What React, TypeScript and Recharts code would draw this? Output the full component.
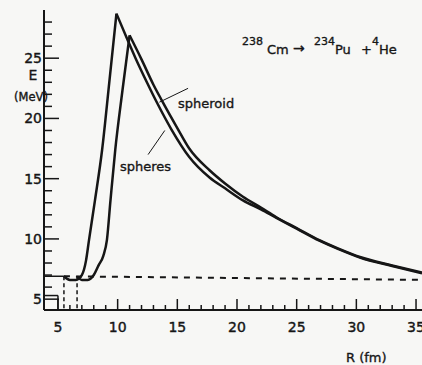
import { LineChart, Line, XAxis, YAxis, ReferenceLine, Customized } from 'recharts'

// R in fm, E in MeV
const spheresR = [5.5, 6.0, 6.5, 7.0, 7.35, 7.6, 8.1, 8.7, 9.3, 9.9, 10.8, 11.5, 12.5, 13.3, 14.5, 16.0, 17.7, 19.0, 20.5, 22.0, 23.3, 25.0, 26.9, 28.5, 30.3, 33.0, 35.5]
const spheresE = [6.9, 6.6, 6.6, 7.0, 8.2, 9.9, 13.2, 17.4, 23.0, 28.7, 26.6, 25.0, 22.9, 21.3, 19.1, 16.8, 15.1, 14.2, 13.2, 12.45, 11.75, 10.85, 9.85, 9.15, 8.45, 7.75, 7.15]

const spheroidR = [6.6, 7.0, 7.5, 8.0, 8.4, 8.8, 9.1, 9.4, 9.8, 10.4, 11.0, 12.0, 13.0, 13.7, 15.0, 16.0, 17.7, 19.0, 20.5, 22.0, 23.3, 25.0, 26.9, 28.5, 30.3, 33.0, 35.5]
const spheroidE = [6.9, 6.6, 6.6, 7.0, 7.8, 8.6, 9.9, 13.2, 17.4, 22.3, 26.9, 24.9, 22.8, 21.5, 19.2, 17.5, 15.7, 14.6, 13.5, 12.6, 11.8, 10.9, 9.9, 9.2, 8.5, 7.8, 7.2]

// Q-value level (dashed) and touching points
const qLevel = [6.9, 6.6]
const touchR = [5.5, 6.6]

const xTicks = [5, 6, 7, 8, 9, 10, 11, 12, 13, 14, 15, 16, 17, 18, 19, 20, 21, 22, 23, 24, 25, 26, 27, 28, 29, 30, 31, 32, 33, 34, 35]
const yTicks = [5, 6, 7, 8, 9, 10, 11, 12, 13, 14, 15, 16, 17, 18, 19, 20, 21, 22, 23, 24, 25, 26, 27, 28]

const X_MIN = 3.83
const X_MAX = 35.5
const Y_MIN = 4.1
const Y_MAX = 29

const INK = '#161616'
const FONT = '"DejaVu Sans", sans-serif'

const toPoints = (rs: number[], es: number[]) => rs.map((r, i) => ({ r, e: es[i] }))

// split at the barrier top so the peak stays sharp while the flanks are smooth
const splitAtPeak = (rs: number[], es: number[]) => {
  const k = es.indexOf(Math.max(...es))
  return [toPoints(rs.slice(0, k + 1), es.slice(0, k + 1)), toPoints(rs.slice(k), es.slice(k))]
}

const [spheresUp, spheresDown] = splitAtPeak(spheresR, spheresE)
const [spheroidUp, spheroidDown] = splitAtPeak(spheroidR, spheroidE)

const XTick = ({ x, y, payload }: any) => {
  const major = payload.value % 5 === 0
  return (
    <g>
      <line x1={x} x2={x} y1={y} y2={y - (major ? 11 : 5)} stroke={INK} strokeWidth={1.5} />
      {major && (
        <text x={x} y={y + 22} textAnchor="middle" fontSize={14} fontFamily={FONT} fill={INK} stroke={INK} strokeWidth={0.4}>
          {payload.value}
        </text>
      )}
    </g>
  )
}

const YTick = ({ x, y, payload }: any) => {
  const major = payload.value % 5 === 0
  return (
    <g>
      <line x1={x} x2={x + (major ? 15 : 8)} y1={y} y2={y} stroke={INK} strokeWidth={1.5} />
      {major && (
        <text x={x - 2} y={y + 5} textAnchor="end" fontSize={14} fontFamily={FONT} fill={INK} stroke={INK} strokeWidth={0.4}>
          {payload.value}
        </text>
      )}
    </g>
  )
}

const Annotations = () => (
  <g fontFamily={FONT} fill={INK} stroke={INK} strokeWidth={0.35}>
    <text x={33} y={80} fontSize={14} textAnchor="middle">E</text>
    <text x={31} y={101} fontSize={11.5} textAnchor="middle">(MeV)</text>
    <text x={346} y={362} fontSize={13}>R (fm)</text>
    <text x={178} y={108} fontSize={13}>spheroid</text>
    <text x={120} y={171} fontSize={13}>spheres</text>
    <text x={242} y={45} fontSize={11}>238</text>
    <text x={267} y={54} fontSize={13}>Cm</text>
    <text x={293} y={53} fontSize={14}>→</text>
    <text x={314} y={45} fontSize={11}>234</text>
    <text x={335} y={54} fontSize={13}>Pu</text>
    <text x={361} y={54} fontSize={13}>+</text>
    <text x={372} y={45} fontSize={11}>4</text>
    <text x={379} y={54} fontSize={13}>He</text>
  </g>
)

export default function App() {
  return (
    <div style={{ position: 'absolute', left: 0, top: 0, width: 422, height: 365, background: '#f7f7f5' }}>
      <LineChart width={422} height={365} margin={{ top: 10, right: 0, bottom: 0, left: 0 }}>
        <XAxis
          type="number"
          dataKey="r"
          domain={[X_MIN, X_MAX]}
          allowDataOverflow
          ticks={xTicks}
          interval={0}
          height={55}
          tickSize={0}
          tickMargin={0}
          tick={<XTick />}
          axisLine={{ stroke: INK, strokeWidth: 2 }}
        />
        <YAxis
          type="number"
          domain={[Y_MIN, Y_MAX]}
          allowDataOverflow
          ticks={yTicks}
          interval={0}
          width={44}
          tickSize={0}
          tickMargin={0}
          tick={<YTick />}
          axisLine={{ stroke: INK, strokeWidth: 2 }}
        />
        {/* small box at the origin corner */}
        <ReferenceLine segment={[{ x: X_MIN, y: 5.3 }, { x: 5, y: 5.3 }]} stroke={INK} strokeWidth={1.5} ifOverflow="visible" />
        <ReferenceLine segment={[{ x: 5, y: 5.3 }, { x: 5, y: Y_MIN }]} stroke={INK} strokeWidth={1.5} ifOverflow="visible" />
        {/* Q level */}
        <ReferenceLine segment={[{ x: X_MIN, y: qLevel[0] }, { x: touchR[0], y: qLevel[0] }]} stroke={INK} strokeWidth={1.5} ifOverflow="visible" />
        <ReferenceLine segment={[{ x: touchR[0], y: qLevel[0] }, { x: X_MAX, y: qLevel[1] }]} stroke={INK} strokeWidth={2} strokeDasharray="6 6" ifOverflow="visible" />
        <ReferenceLine segment={[{ x: touchR[0], y: qLevel[0] }, { x: touchR[0], y: Y_MIN }]} stroke={INK} strokeWidth={1.5} strokeDasharray="4 3" ifOverflow="visible" />
        <ReferenceLine segment={[{ x: touchR[1], y: qLevel[0] }, { x: touchR[1], y: Y_MIN }]} stroke={INK} strokeWidth={1.5} strokeDasharray="4 3" ifOverflow="visible" />
        {/* label pointers */}
        <ReferenceLine segment={[{ x: 15.9, y: 22.5 }, { x: 13.5, y: 21.35 }]} stroke={INK} strokeWidth={1} ifOverflow="visible" />
        <ReferenceLine segment={[{ x: 12.55, y: 17.0 }, { x: 13.95, y: 19.0 }]} stroke={INK} strokeWidth={1} ifOverflow="visible" />
        <Line data={spheresUp} dataKey="e" type="monotone" dot={false} stroke={INK} strokeWidth={2.5} isAnimationActive={false} />
        <Line data={spheresDown} dataKey="e" type="monotone" dot={false} stroke={INK} strokeWidth={2.5} isAnimationActive={false} />
        <Line data={spheroidUp} dataKey="e" type="monotone" dot={false} stroke={INK} strokeWidth={2.5} isAnimationActive={false} />
        <Line data={spheroidDown} dataKey="e" type="monotone" dot={false} stroke={INK} strokeWidth={2.5} isAnimationActive={false} />
        <Customized component={Annotations} />
      </LineChart>
    </div>
  )
}
